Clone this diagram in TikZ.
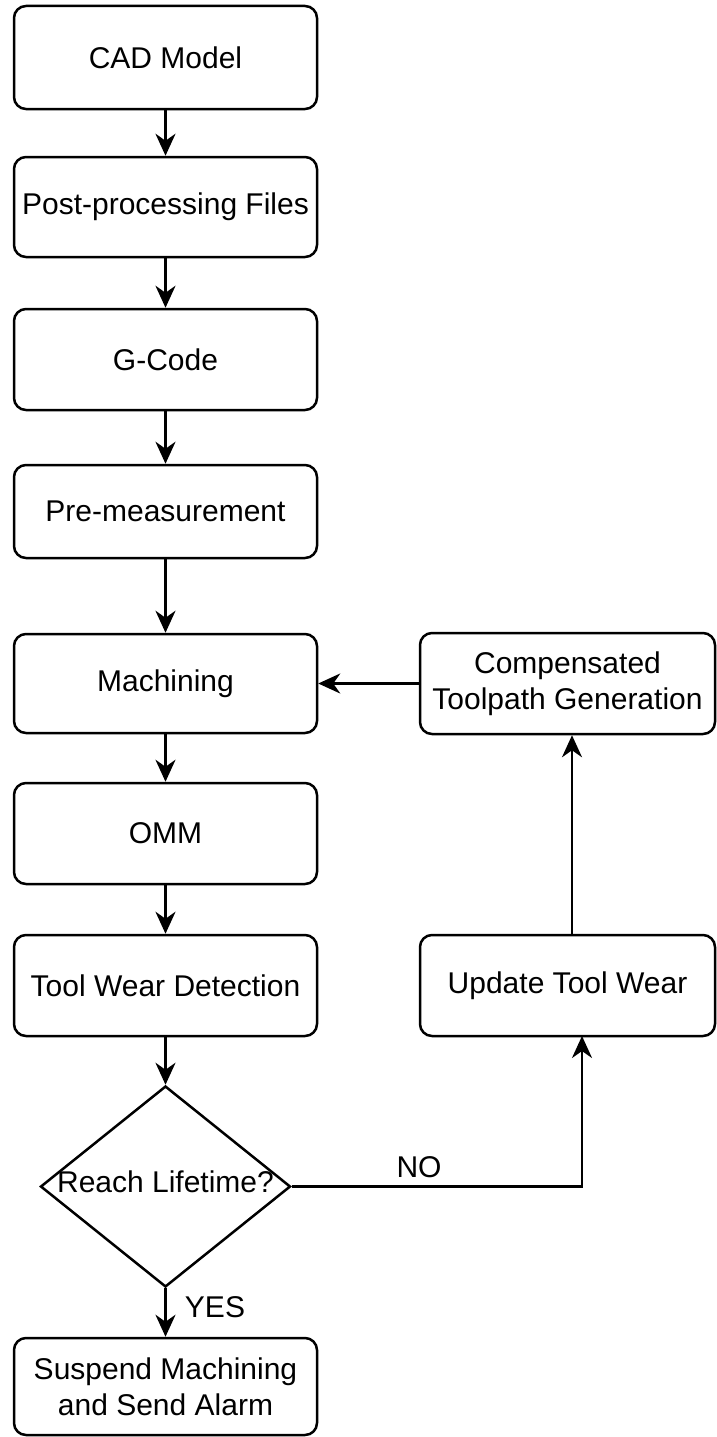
\documentclass[tikz,border=0pt]{standalone}
\usepackage{fontspec}
\setmainfont{Liberation Sans}
\usetikzlibrary{shapes.geometric,arrows.meta,positioning}
\begin{document}
\begin{tikzpicture}[x=1pt,y=-1pt,
  every node/.style={font=\fontsize{30}{36}\selectfont},
  box/.style={draw=black,line width=2.5pt,rounded corners=12pt,minimum width=303pt,inner sep=0pt,align=center},
  rbox/.style={box,minimum width=295pt},
  dec/.style={draw=black,line width=2.5pt,diamond,aspect=1.25,minimum width=250pt,minimum height=201pt,inner sep=0pt},
  conn/.style={line width=2.5pt,-{Stealth[length=22pt,width=20pt,inset=7pt]}},
  lbl/.style={inner sep=0pt}]
\useasboundingbox (0,0) rectangle (716,1437);
\node[box,minimum height=103pt] (cad) at (165.5,57.5) {CAD Model};
\node[box,minimum height=100pt] (post) at (165.5,207) {Post-processing Files};
\node[box,minimum height=101pt] (gcode) at (165.5,359.5) {G-Code};
\node[box,minimum height=93pt] (pre) at (165.5,511.5) {Pre-measurement};
\node[box,minimum height=99pt] (mach) at (165.5,683.5) {Machining};
\node[box,minimum height=101pt] (omm) at (165.5,833.5) {OMM};
\node[box,minimum height=101pt] (twd) at (165.5,985.5) {Tool Wear Detection};
\node[dec] (dia) at (165.5,1186.5) {};
\node[lbl] (diatext) at (165.5,1182) {Reach Lifetime?};
\node[box,minimum height=97pt] (susp) at (165.5,1386.5) {Suspend Machining\\and Send Alarm};
\node[rbox,minimum height=101pt] (comp) at (567.5,683.5) {Compensated\\Toolpath Generation};
\node[rbox,minimum height=101pt] (upd) at (567.5,985.5) {Update Tool Wear};
\coordinate (updin) at (582,1036);
\draw[conn] (cad) -- (post);
\draw[conn] (post) -- (gcode);
\draw[conn] (gcode) -- (pre);
\draw[conn] (pre) -- (mach);
\draw[conn] (mach) -- (omm);
\draw[conn] (omm) -- (twd);
\draw[conn] (twd) -- (dia);
\draw[conn] (dia) -- (susp);
\draw[conn] (comp) -- (mach);
\draw[conn] ([xshift=4.5pt]upd.north) -- ([xshift=4.5pt]comp.south);
\draw[conn] (dia.east) -| (updin);
\node[lbl] (no) at (419,1167) {NO};
\node[lbl] (yes) at (215,1307) {YES};
\end{tikzpicture}
\end{document}
